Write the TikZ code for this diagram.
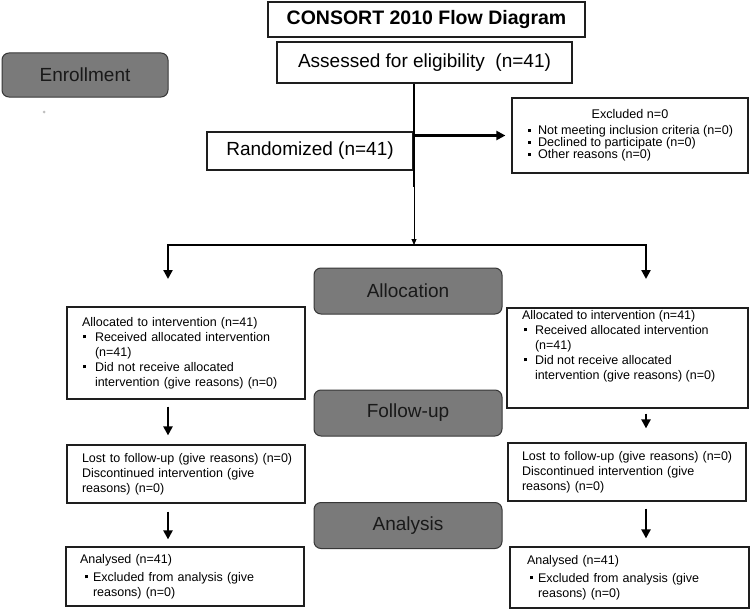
\documentclass[tikz,border=0pt]{standalone}
\usepackage{fontspec}
\setmainfont{Liberation Sans}
\usetikzlibrary{arrows.meta,positioning,calc}
\definecolor{stagegrey}{RGB}{122,122,122}
\definecolor{stageline}{RGB}{55,55,55}
\definecolor{boxline}{RGB}{30,30,30}
\newcommand{\sqbul}[1][12pt]{\makebox[#1][l]{\rule[0.22em]{3pt}{3pt}}}

\begin{document}
\begin{tikzpicture}[x=1pt,y=-1pt,
  stage/.style={draw=stageline,fill=stagegrey,line width=1pt,rounded corners=7pt,
    minimum width=188pt,minimum height=46pt,inner sep=0pt,
    font=\fontsize{19}{22}\selectfont,text=black!90},
  bigbox/.style={draw=boxline,line width=1.2pt,fill=white,inner sep=0pt,
    font=\fontsize{19}{22}\selectfont},
  txtbox/.style={draw=boxline,line width=1.2pt,fill=white,inner xsep=14pt,inner ysep=0pt,
    align=left,font=\fontsize{12.5}{15}\selectfont},
  fat/.style={line width=2.4pt},
  fatarr/.style={line width=2.2pt,-{Triangle[width=9pt,length=9pt]}},
  thinarr/.style={line width=0.9pt,-{Triangle[width=5pt,length=6pt]}}]
  \useasboundingbox (0,0) rectangle (752,610);

  % header and enrollment
  \node[bigbox,font=\bfseries\fontsize{19.5}{22}\selectfont,minimum width=317pt,minimum height=35pt] (title) at (426.5,19.5) {CONSORT 2010 Flow Diagram};
  \node[bigbox,minimum width=295pt,minimum height=41pt] (assess) at (424.5,62.5) {Assessed for eligibility\ \ (n=41)};
  \node[bigbox,minimum width=206pt,minimum height=38pt] (rand) at (310,151) {Randomized (n=41)};
  \node[txtbox,font=\fontsize{12.6}{12}\selectfont,minimum height=75pt] (excl) at (630,135.5) {\begin{minipage}{208pt}
    \centering Excluded n=0\par\vspace{4pt}
    \raggedright
    \hspace*{2pt}\sqbul[10pt]Not meeting inclusion criteria (n=0)\\
    \hspace*{2pt}\sqbul[10pt]Declined to participate (n=0)\\
    \hspace*{2pt}\sqbul[10pt]Other reasons (n=0)
  \end{minipage}};

  \node[stage,minimum width=166pt,minimum height=44pt] (enrol) at (85,75) {Enrollment};
  \fill[black!25] (44,112) circle (1.5pt);

  % stage labels
  \node[stage] (alloc) at (408,291) {Allocation};
  \node[stage] (follow) at (408,413) {Follow-up};
  \node[stage] (analysis) at (408,525.5) {Analysis};

  % left arm
  \node[txtbox,inner xsep=15pt,text width=208pt,minimum height=92pt] (allocL) at (186,353) {Allocated to intervention (n=41)\\
    \hspace*{1pt}\sqbul Received allocated intervention\\
    \hspace*{13pt}(n=41)\\
    \hspace*{1pt}\sqbul Did not receive allocated\\
    \hspace*{13pt}intervention (give reasons) (n=0)};
  \node[txtbox,inner xsep=15pt,text width=208pt,minimum height=58pt] (lostL) at (186,474) {\mbox{Lost to follow-up (give reasons) (n=0)}\\
    Discontinued intervention (give\\
    reasons) (n=0)};
  \node[txtbox,text width=210pt,minimum height=59pt] (anL) at (185,576.5) {Analysed (n=41)\\[3pt]
    \hspace*{5pt}\sqbul[8pt]Excluded from analysis (give\\
    \hspace*{13pt}reasons) (n=0)};

  % right arm
  \node[txtbox,inner xsep=15pt,inner ysep=2pt] (allocR) at (627.5,358) {\begin{minipage}[t][96pt][t]{211pt}
    \raggedright
    Allocated to intervention (n=41)\\
    \hspace*{2pt}\sqbul[11pt]Received allocated intervention\\
    \hspace*{13pt}(n=41)\\
    \hspace*{2pt}\sqbul[11pt]Did not receive allocated\\
    \hspace*{13pt}intervention (give reasons) (n=0)
  \end{minipage}};
  \node[txtbox,text width=210pt,minimum height=58pt] (lostR) at (627,472) {\mbox{Lost to follow-up (give reasons) (n=0)}\\
    Discontinued intervention (give\\
    reasons) (n=0)};
  \node[txtbox,inner xsep=17pt,text width=205pt,minimum height=61pt] (anR) at (629.5,577.5) {Analysed (n=41)\\[3pt]
    \hspace*{3pt}\sqbul[8pt]Excluded from analysis (give\\
    \hspace*{11pt}reasons) (n=0)};

  % connectors
  \coordinate (bend) at (414,187);
  \coordinate (hub) at (414,245);
  \coordinate (tipL) at (168,279);
  \coordinate (tipR) at (646,279);
  \draw[fat] (assess.south -| hub) -- (bend);
  \draw[thinarr] (bend) -- (hub);
  \draw[fatarr,shorten >=6pt] (excl.west -| hub) -- (excl.west);
  \draw[fatarr] (hub) -| (tipL);
  \draw[fatarr] (hub) -| (tipR);
  \draw[fatarr,shorten <=7pt,shorten >=9pt] (allocL.south -| tipL) -- (lostL.north -| tipL);
  \draw[fatarr,shorten <=8pt,shorten >=7pt] (lostL.south -| tipL) -- (anL.north -| tipL);
  \draw[fatarr,shorten <=5pt,shorten >=14pt] (allocR.south -| tipR) -- (lostR.north -| tipR);
  \draw[fatarr,shorten <=7pt,shorten >=8pt] (lostR.south -| tipR) -- (anR.north -| tipR);
\end{tikzpicture}
\end{document}
